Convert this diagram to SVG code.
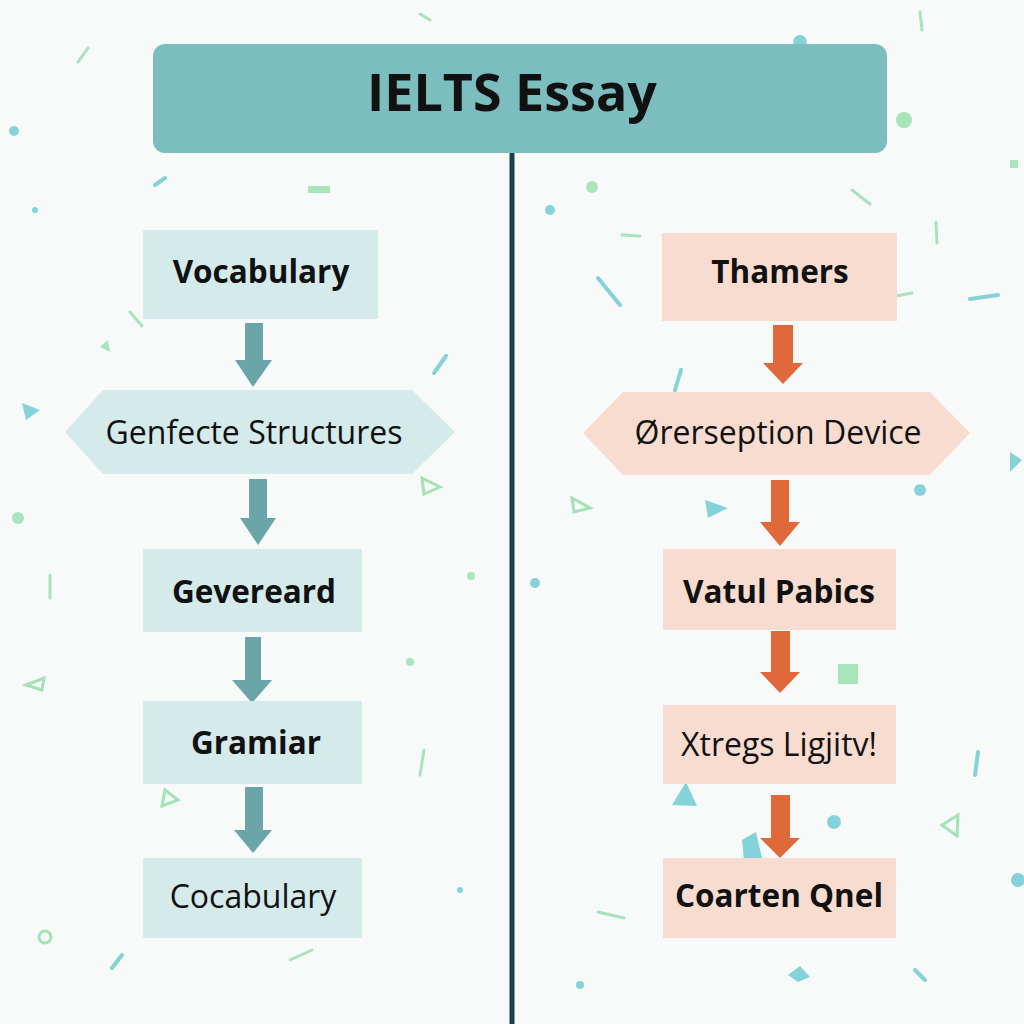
<svg xmlns="http://www.w3.org/2000/svg" width="1024" height="1024" viewBox="0 0 1024 1024">
<style>
.bg{fill:#f8faf9}
.t{fill:#7cbec0}
.lb{fill:#d4eaeb}
.rb{fill:#f9dcd0}
.la{fill:#6aa5a7}
.ra{fill:#e0693b}
.txt{font-family:"Open Sans","Noto Sans","DejaVu Sans",sans-serif;fill:#111;text-anchor:middle}
.b{font-weight:700;font-size:31.5px}
.r{font-weight:400;font-size:32px}
.ct{fill:#5fc5cf;opacity:.75}
.cg{fill:#8fdca6;opacity:.75}
.co{fill:none;stroke:#8fdca6;stroke-width:3;opacity:.8}
.cl{stroke:#8fdca6;stroke-width:3;stroke-linecap:round;opacity:.75}
.clt{stroke:#5fc5cf;stroke-width:4;stroke-linecap:round;opacity:.75}
</style>
<rect class="bg" x="0" y="0" width="1024" height="1024"/>
<g id="confetti">
<circle class="ct" cx="14" cy="131" r="5"/>
<line class="cl" x1="78" y1="62" x2="88" y2="48"/>
<line class="clt" x1="155" y1="185" x2="165" y2="178"/>
<circle class="ct" cx="35" cy="210" r="3"/>
<rect class="cg" x="308" y="186" width="22" height="7"/>
<polygon class="ct" points="22,403 40,410 26,420"/>
<circle class="cg" cx="18" cy="518" r="6"/>
<line class="cl" x1="50" y1="575" x2="50" y2="598"/>
<polygon class="co" points="26,685 44,678 42,690"/>
<circle class="co" cx="45" cy="937" r="6"/>
<line class="clt" x1="434" y1="373" x2="446" y2="356"/>
<polygon class="co" points="422,478 440,487 424,494"/>
<circle class="cg" cx="471" cy="576" r="4"/>
<circle class="cg" cx="410" cy="662" r="4"/>
<line class="cl" x1="420" y1="775" x2="424" y2="750"/>
<circle class="ct" cx="460" cy="890" r="3"/>
<line class="clt" x1="112" y1="968" x2="122" y2="955"/>
<line class="cl" x1="290" y1="960" x2="312" y2="950"/>
<polygon class="co" points="165,790 178,800 162,806"/>
<line class="cl" x1="130" y1="312" x2="142" y2="326"/>
<polygon class="cg" points="100,347 108,340 110,352"/>
<line class="clt" x1="598" y1="278" x2="620" y2="305"/>
<line class="clt" x1="675" y1="390" x2="681" y2="370"/>
<circle class="ct" cx="550" cy="210" r="5"/>
<circle class="cg" cx="592" cy="187" r="6"/>
<line class="cl" x1="622" y1="235" x2="640" y2="236"/>
<circle class="cg" cx="904" cy="120" r="8"/>
<line class="cl" x1="852" y1="190" x2="870" y2="204"/>
<line class="clt" x1="970" y1="299" x2="998" y2="295"/>
<line class="cl" x1="936" y1="222" x2="937" y2="243"/>
<line class="cl" x1="896" y1="296" x2="912" y2="293"/>
<polygon class="ct" points="1010,452 1022,460 1010,472"/>
<circle class="ct" cx="920" cy="490" r="6"/>
<polygon class="ct" points="705,500 728,508 708,518"/>
<polygon class="co" points="572,498 590,508 574,512"/>
<circle class="ct" cx="535" cy="583" r="5"/>
<rect class="cg" x="838" y="664" width="20" height="20"/>
<circle class="ct" cx="834" cy="822" r="7"/>
<polygon class="ct" points="672,805 686,782 697,806"/>
<polygon class="ct" points="742,840 756,832 762,858 744,860"/>
<line class="clt" x1="975" y1="775" x2="978" y2="752"/>
<polygon class="co" points="942,825 958,815 957,836"/>
<circle class="ct" cx="1018" cy="880" r="7"/>
<line class="clt" x1="915" y1="970" x2="925" y2="980"/>
<polygon class="ct" points="788,975 800,966 810,977 798,982"/>
<circle class="ct" cx="580" cy="985" r="4"/>
<line class="cl" x1="598" y1="912" x2="624" y2="918"/>
<circle class="ct" cx="800" cy="42" r="7"/>
<line class="cl" x1="920" y1="12" x2="922" y2="30"/>
<line class="cl" x1="420" y1="14" x2="430" y2="20"/>
<rect class="cg" x="1010" y="160" width="8" height="8"/>
</g>
<g id="divider">
<line x1="512" y1="150" x2="512" y2="1024" stroke="#1e3e46" stroke-width="5"/>
</g>
<g id="title">
<rect class="t" x="153" y="44" width="734" height="109" rx="12"/>
<text class="txt" x="512" y="111" font-size="52" font-weight="700">IELTS Essay</text>
</g>
<g id="connectors">
<polygon class="la" points="245,323 263,323 263,360 272,360 253,387 235,360 245,360"/>
<polygon class="la" points="249,479 267,479 267,518 276,518 258,545 240,518 249,518"/>
<polygon class="la" points="245,637 261,637 261,680 272,680 252,703 232,680 245,680"/>
<polygon class="la" points="245,787 263,787 263,830 272,830 253,853 234,830 245,830"/>
<polygon class="ra" points="773,325 793,325 793,363 803,363 783,384 763,363 773,363"/>
<polygon class="ra" points="771,480 789,480 789,522 800,522 780,546 760,522 771,522"/>
<polygon class="ra" points="771,631 790,631 790,672 800,672 780,693 760,672 771,672"/>
<polygon class="ra" points="771,795 790,795 790,838 800,838 780,858 760,838 771,838"/>
</g>
<g id="n-vocabulary">
<rect class="lb" x="143" y="230" width="235" height="89"/>
<text class="txt b" x="261" y="283">Vocabulary</text>
</g>
<g id="n-genfecte">
<polygon class="lb" points="65,432 103,390 412,390 455,432 412,474 103,474"/>
<text class="txt r" x="254" y="444">Genfecte Structures</text>
</g>
<g id="n-gevereard">
<rect class="lb" x="143" y="549" width="219" height="83"/>
<text class="txt b" x="254" y="603">Gevereard</text>
</g>
<g id="n-gramiar">
<rect class="lb" x="143" y="701" width="219" height="83"/>
<text class="txt b" x="256" y="754">Gramiar</text>
</g>
<g id="n-cocabulary">
<rect class="lb" x="143" y="858" width="219" height="80"/>
<text class="txt r" x="253" y="908">Cocabulary</text>
</g>
<g id="n-thamers">
<rect class="rb" x="662" y="233" width="235" height="88"/>
<text class="txt b" x="780" y="283">Thamers</text>
</g>
<g id="n-orerseption">
<polygon class="rb" points="583,433 623,392 930,392 970,433 930,475 623,475"/>
<text class="txt r" x="778" y="444">Ørerseption Device</text>
</g>
<g id="n-vatul">
<rect class="rb" x="663" y="549" width="233" height="81"/>
<text class="txt b" x="779" y="603">Vatul Pabics</text>
</g>
<g id="n-xtregs">
<rect class="rb" x="663" y="705" width="233" height="79"/>
<text class="txt r" x="779" y="756">Xtregs Ligjitv!</text>
</g>
<g id="n-coarten">
<rect class="rb" x="663" y="858" width="233" height="80"/>
<text class="txt b" x="779" y="907">Coarten Qnel</text>
</g>
</svg>
